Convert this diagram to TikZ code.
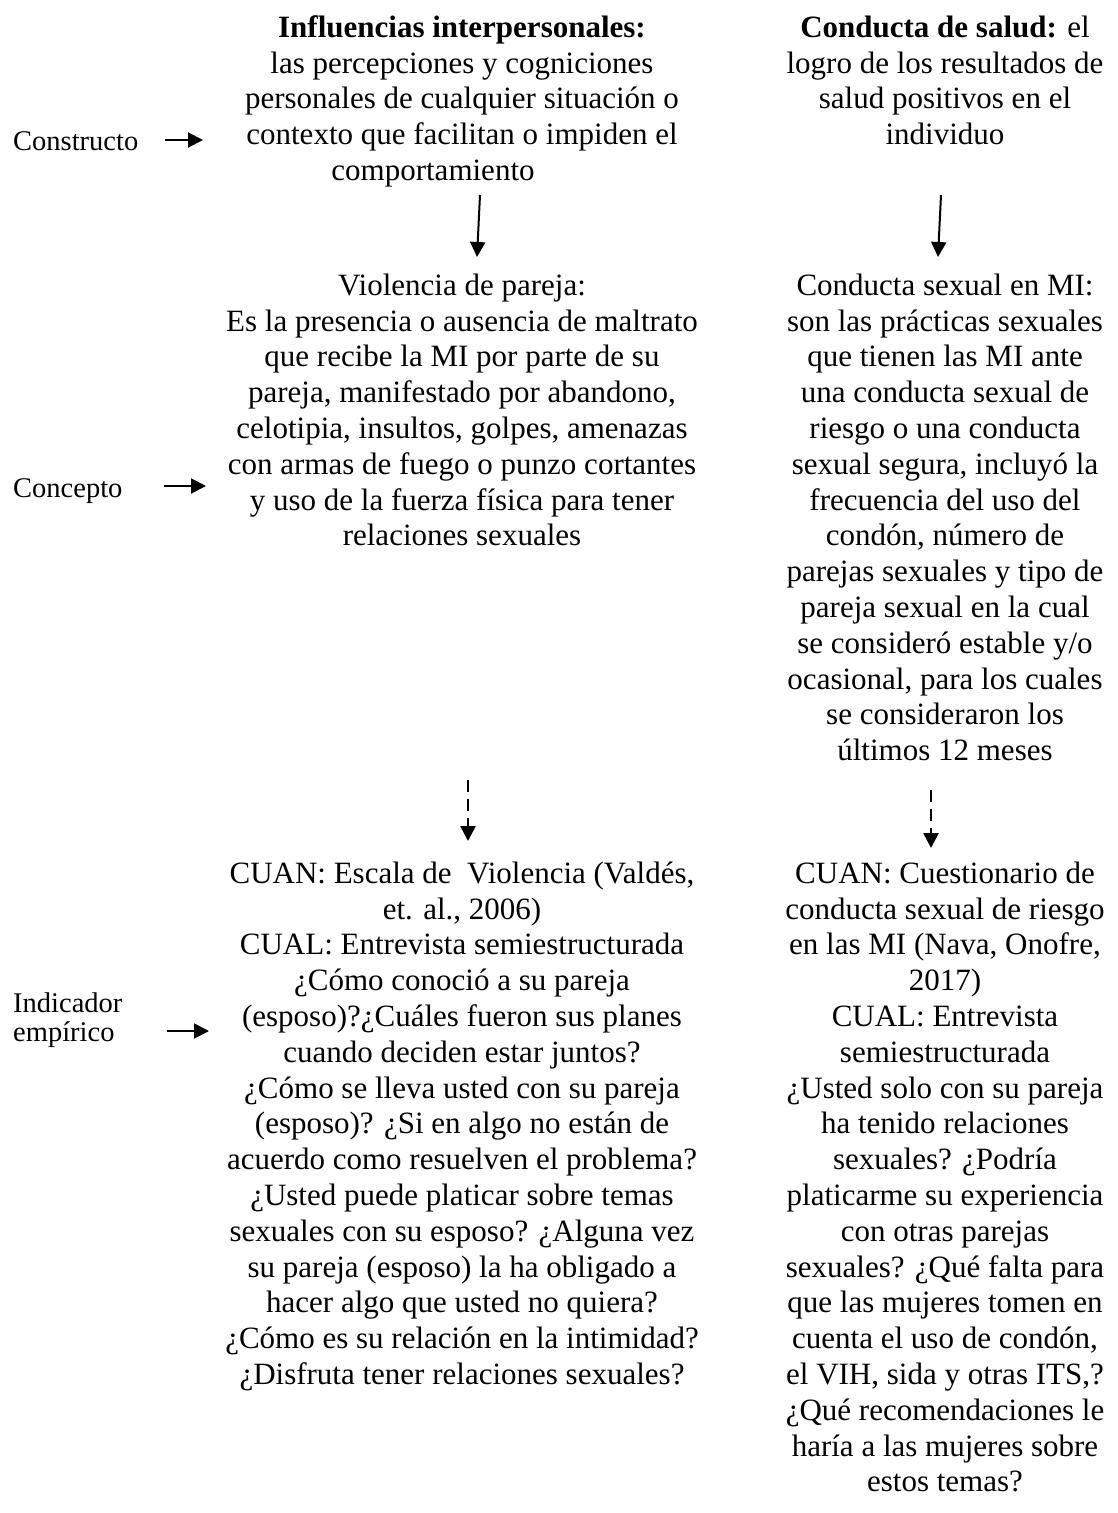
\documentclass[tikz,border=0pt]{standalone}
\usepackage{fontspec}
\setmainfont{Liberation Serif}
\usetikzlibrary{arrows.meta}
\newcommand\mainsz{\fontsize{31}{35.8}\selectfont}
\newcommand\labsz{\fontsize{28.5}{29}\selectfont}
\newcommand\firstln{\rule{0pt}{25pt}}
\begin{document}
\begin{tikzpicture}[x=1pt,y=-1pt,
  blk/.style={align=center, inner sep=0pt, anchor=north, font=\mainsz},
  lab/.style={inner sep=0pt, font=\labsz},
  link/.style={line width=2pt, -{Triangle[length=15pt,width=15pt]}},
  dlink/.style={line width=2.6pt, dash pattern=on 12pt off 7pt, -{Triangle[length=15pt,width=15pt]}}]
\useasboundingbox (0,0) rectangle (1118,1513);

% column headings
\node[blk] (infl) at (462,12) {\firstln\textbf{Influencias interpersonales:}\\
  las percepciones y cogniciones\\
  personales de cualquier situación o\\
  contexto que facilitan o impiden el\\
  comportamiento\hspace*{58pt}};
\node[blk] (salud) at (945,12) {\firstln\textbf{Conducta de salud:} el\\
  logro de los resultados de\\
  salud positivos en el\\
  individuo};

% concepts
\node[blk] (viol) at (462,270) {\firstln Violencia de pareja:\\
  Es la presencia o ausencia de maltrato\\
  que recibe la MI por parte de su\\
  pareja, manifestado por abandono,\\
  celotipia, insultos, golpes, amenazas\\
  con armas de fuego o punzo cortantes\\
  y uso de la fuerza física para tener\\
  relaciones sexuales};
\node[blk] (csex) at (945,270) {\firstln Conducta sexual en MI:\\
  son las prácticas sexuales\\
  que tienen las MI ante\\
  una conducta sexual de\\
  riesgo o una conducta\\
  sexual segura, incluyó la\\
  frecuencia del uso del\\
  condón, número de\\
  parejas sexuales y tipo de\\
  pareja sexual en la cual\\
  se consideró estable y/o\\
  ocasional, para los cuales\\
  se consideraron los\\
  últimos 12 meses};

% empirical indicators
\node[blk] (indL) at (462,858) {\firstln CUAN: Escala de\ \ Violencia (Valdés,\\
  et. al., 2006)\\
  CUAL: Entrevista semiestructurada\\
  ¿Cómo conoció a su pareja\\
  (esposo)?¿Cuáles fueron sus planes\\
  cuando deciden estar juntos?\\
  ¿Cómo se lleva usted con su pareja\\
  (esposo)? ¿Si en algo no están de\\
  acuerdo como resuelven el problema?\\
  ¿Usted puede platicar sobre temas\\
  sexuales con su esposo? ¿Alguna vez\\
  su pareja (esposo) la ha obligado a\\
  hacer algo que usted no quiera?\\
  ¿Cómo es su relación en la intimidad?\\
  ¿Disfruta tener relaciones sexuales?};
\node[blk] (indR) at (945,858) {\firstln CUAN: Cuestionario de\\
  conducta sexual de riesgo\\
  en las MI (Nava, Onofre,\\
  2017)\\
  CUAL: Entrevista\\
  semiestructurada\\
  ¿Usted solo con su pareja\\
  ha tenido relaciones\\
  sexuales? ¿Podría\\
  platicarme su experiencia\\
  con otras parejas\\
  sexuales? ¿Qué falta para\\
  que las mujeres tomen en\\
  cuenta el uso de condón,\\
  el VIH, sida y otras ITS,?\\
  ¿Qué recomendaciones le\\
  haría a las mujeres sobre\\
  estos temas?};

% row labels
\node[lab, anchor=base west] (lcons) at (13,150) {Constructo};
\node[lab, anchor=base west] (lconc) at (13,497) {Concepto};
\node[lab, anchor=north west, align=left] (lind) at (13,990) {\rule{0pt}{22pt}Indicador\\empírico};

% arrow end points
\coordinate (c1a) at (165,140); \coordinate (c1b) at (203,140);
\coordinate (c2a) at (164,486); \coordinate (c2b) at (206,486);
\coordinate (c3a) at (167,1031); \coordinate (c3b) at (209,1031);
\coordinate (v1a) at (480,195); \coordinate (v1b) at (477,257);
\coordinate (v2a) at (941,195); \coordinate (v2b) at (938,257);
\coordinate (d1a) at (468,780); \coordinate (d1b) at (468,841);
\coordinate (d2a) at (931,790); \coordinate (d2b) at (931,848);

\draw[link] (c1a) -- (c1b);
\draw[link] (c2a) -- (c2b);
\draw[link] (c3a) -- (c3b);
\draw[link] (v1a) -- (v1b);
\draw[link] (v2a) -- (v2b);
\draw[dlink] (d1a) -- (d1b);
\draw[dlink] (d2a) -- (d2b);
\end{tikzpicture}
\end{document}
